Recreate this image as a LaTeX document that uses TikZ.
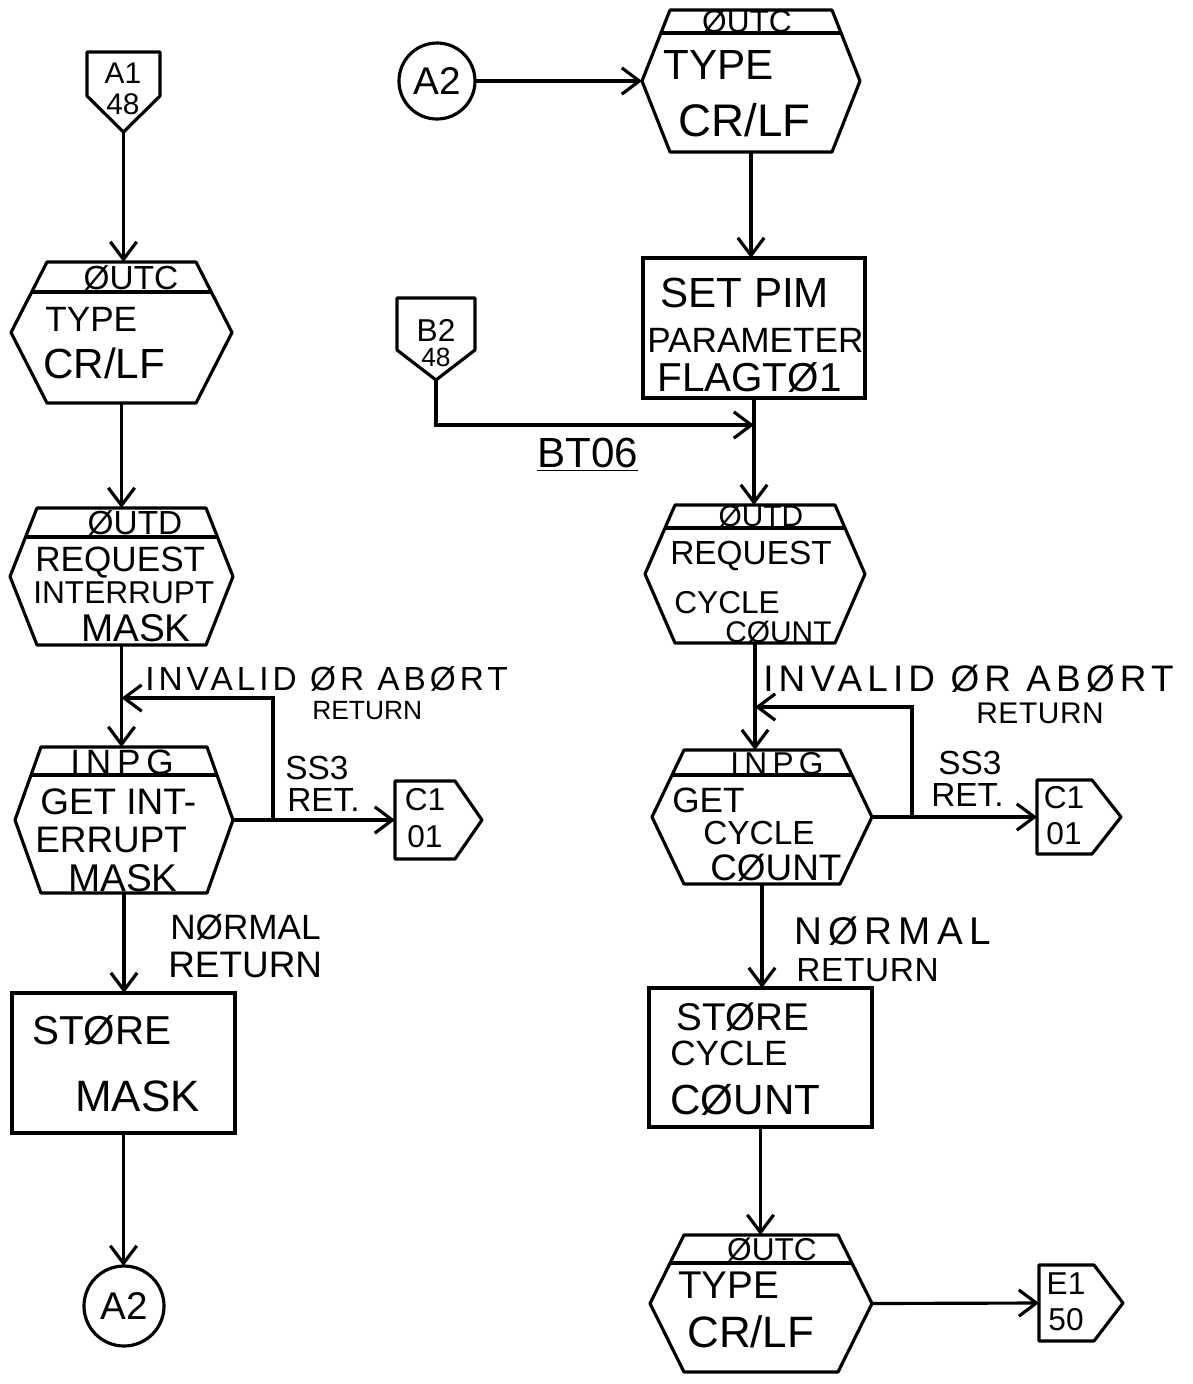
\documentclass[tikz,border=0pt]{standalone}
\usepackage{fontspec}
\setmainfont{Liberation Sans}
\usetikzlibrary{arrows.meta,calc}
\newcommand\fsz[1]{\fontsize{#1}{#1}\selectfont}
\newcommand\spc[1]{\addfontfeature{LetterSpace=#1}}
% hexagon: name, xl, xr, top, bottom, e, divider
\newcommand\HexBox[7]{%
  \node[frame, minimum width={(#3-#2)*0.02cm}, minimum height={(#5-#4)*0.02cm}] (#1) at ({(#2+#3)/2},{(#4+#5)/2}) {};
  \draw[shp] (#2,{(#4+#5)/2}) -- ({#2+#6},#4) -- ({#3-#6},#4) -- (#3,{(#4+#5)/2}) -- ({#3-#6},#5) -- ({#2+#6},#5) -- cycle;
  \draw[shp] ({#2+#6*(1-(#7-#4)/((#5-#4)/2))},#7) -- ({#3-#6*(1-(#7-#4)/((#5-#4)/2))},#7);
}
% off-page tag pointing down: name, xl, xr, top, shoulder, point
\newcommand\DownTag[6]{%
  \node[frame, minimum width={(#3-#2)*0.02cm}, minimum height={(#6-#4)*0.02cm}] (#1) at ({(#2+#3)/2},{(#4+#6)/2}) {};
  \draw[shp] (#2,#4) -- (#3,#4) -- (#3,#5) -- ({(#2+#3)/2},#6) -- (#2,#5) -- cycle;
}
% off-page tag pointing right: name, xl, shoulder x, tip x, top, bottom
\newcommand\RightTag[6]{%
  \node[frame, minimum width={(#4-#2)*0.02cm}, minimum height={(#6-#5)*0.02cm}] (#1) at ({(#2+#4)/2},{(#5+#6)/2}) {};
  \draw[shp] (#2,#5) -- (#3,#5) -- (#4,{(#5+#6)/2}) -- (#3,#6) -- (#2,#6) -- cycle;
}
\begin{document}
\begin{tikzpicture}[x=0.02cm, y=-0.02cm,
  frame/.style={draw=none, rectangle, inner sep=0pt, outer sep=0pt},
  shp/.style={line width=1.8pt, line join=round},
  boxst/.style={draw, line width=1.8pt, rectangle, inner sep=0pt, outer sep=0pt},
  circ/.style={draw, line width=1.8pt, circle, inner sep=0pt, outer sep=0pt},
  arr/.style={line width=1.8pt, -{Straight Barb[length=10pt, width=15pt, line width=1.8pt]}},
  tw/.style={inner sep=0pt, anchor=west},
  tc/.style={inner sep=0pt}]
\useasboundingbox (0,0) rectangle (1193,1384);

% ---------------- left column ----------------
\DownTag{a1}{87}{160}{52}{96}{132}
\node[tc] (a1t) at (123,73) {\fsz{17}A1};
\node[tc] (a1b) at (123,104) {\fsz{17}48};

\HexBox{h1}{11}{232}{262}{403}{36}{292}
\node[tc] (h1h) at (131,278) {\fsz{19}ØUTC};
\node[tw] (h1a) at (45,319) {\fsz{20}TYPE};
\node[tw] (h1b) at (43,363) {\fsz{24}CR/LF};

\HexBox{h2}{10}{233}{508}{645}{27}{537}
\node[tc] (h2h) at (135,523) {\fsz{19}ØUTD};
\node[tw] (h2a) at (35,563) {\fsz{20}REQUEST};
\node[tw] (h2b) at (33,593) {\fsz{18}INTERRUPT};
\node[tc] (h2c) at (136,628) {\fsz{22}MASK};

\HexBox{h3}{15}{233}{747}{893}{26}{775}
\node[tc] (h3h) at (122,762) {\fsz{20}I\,N\,P\,G};
\node[tw] (h3a) at (40,802) {\fsz{21}GET INT-};
\node[tw] (h3b) at (35,840) {\fsz{21}ERRUPT};
\node[tc] (h3c) at (123,878) {\fsz{22}MASK};

\RightTag{c1L}{395}{455}{482}{781}{859}
\node[tc] (c1La) at (425,800) {\fsz{18}C1};
\node[tc] (c1Lb) at (425,837) {\fsz{18}01};

\node[boxst, minimum width={223*0.02cm}, minimum height={140*0.02cm}] (b1) at (123.5,1063) {};
\node[tw] (b1a) at (32,1031) {\fsz{23}STØRE};
\node[tw] (b1b) at (75,1096) {\fsz{25}MASK};

\node[circ, minimum size={80*0.02cm}] (a2L) at (124,1306) {\fsz{22}A2};

\node[tw] (invL) at (145,679) {\fsz{19}\spc{12}INVALID ØR ABØRT};
\node[tw] (retL) at (312,711) {\fsz{15}RETURN};
\node[tw] (ssL) at (285,768) {\fsz{19}SS3};
\node[tw] (rtL) at (287,800) {\fsz{19}RET.};
\node[tw] (nmL) at (170,927) {\fsz{20}NØRMAL};
\node[tw] (nrL) at (168,965) {\fsz{21}RETURN};

\coordinate (brL) at (273,820);
\coordinate (jnL) at (121.5,698);

\draw[arr] (a1.south) -- (a1.south |- h1.north);
\draw[arr] (h1.south) -- (h1.south |- h2.north);
\draw[arr] (h2.south) -- (h2.south |- h3.north);
\draw[arr] (h3.east) -- (c1L.west);
\draw[arr] (brL) |- (jnL);
\draw[arr] (h3.south) -- (h3.south |- b1.north);
\draw[arr] (b1.south) -- (b1.south |- a2L.north);

% ---------------- right column ----------------
\node[circ, minimum size={76*0.02cm}] (a2R) at (437,81) {\fsz{22}A2};

\HexBox{h4}{642}{860}{10}{152}{28}{33}
\node[tc] (h4h) at (747,22) {\fsz{18}ØUTC};
\node[tw] (h4a) at (663,65) {\fsz{24}TYPE};
\node[tw] (h4b) at (678,120) {\fsz{26}CR/LF};

\node[boxst, minimum width={222*0.02cm}, minimum height={140*0.02cm}] (bset) at (754,328) {};
\node[tw] (bsa) at (660,293) {\fsz{24}SET PIM};
\node[tw] (bsb) at (647,340) {\fsz{20}PARAMETER};
\node[tw] (bsc) at (657,378) {\fsz{23}FLAGTØ1};

\DownTag{b2}{397}{475}{298}{350}{380}
\node[tc] (b2t) at (436,330) {\fsz{18}B2};
\node[tc] (b2b) at (436,357) {\fsz{15}48};
\coordinate (bjoin) at (754,425);
\node[tw] (bt) at (537,455) {\fsz{24}\underline{BT06}};

\HexBox{h5}{645}{865}{505}{643}{30}{528}
\node[tc] (h5h) at (761,516) {\fsz{17}ØUTD};
\node[tw] (h5a) at (670,556) {\fsz{19}REQUEST};
\node[tw] (h5b) at (674,603) {\fsz{18}CYCLE};
\node[tw] (h5c) at (725,632) {\fsz{17}CØUNT};

\HexBox{h6}{652}{872}{750}{884}{32}{775}
\node[tc] (h6h) at (777,764) {\fsz{18}I\,N\,P\,G};
\node[tw] (h6a) at (672,800) {\fsz{20}GET};
\node[tw] (h6b) at (703,833) {\fsz{19}CYCLE};
\node[tw] (h6c) at (710,868) {\fsz{21}CØUNT};

\RightTag{c1R}{1037}{1092}{1121}{780}{854}
\node[tc] (c1Ra) at (1064,798) {\fsz{18}C1};
\node[tc] (c1Rb) at (1064,834) {\fsz{18}01};

\node[boxst, minimum width={223*0.02cm}, minimum height={139*0.02cm}] (b3) at (760.5,1057.5) {};
\node[tw] (b3a) at (676,1017) {\fsz{22}STØRE};
\node[tw] (b3b) at (670,1053) {\fsz{20}CYCLE};
\node[tw] (b3c) at (670,1100) {\fsz{24}CØUNT};

\HexBox{h7}{650}{872}{1235}{1372}{34}{1263}
\node[tc] (h7h) at (772,1250) {\fsz{18}ØUTC};
\node[tw] (h7a) at (678,1285) {\fsz{22}TYPE};
\node[tw] (h7b) at (687,1332) {\fsz{25}CR/LF};

\RightTag{e1}{1039}{1094}{1123}{1265}{1341}
\node[tc] (e1a) at (1066,1284) {\fsz{18}E1};
\node[tc] (e1b) at (1066,1320) {\fsz{18}50};

\node[tw] (invR) at (763,679) {\fsz{21}\spc{14}INVALID ØR ABØRT};
\node[tw] (retR) at (976,713) {\fsz{17}\spc{2}RETURN};
\node[tw] (ssR) at (938,763) {\fsz{19}SS3};
\node[tw] (rtR) at (931,795) {\fsz{19}RET.};
\node[tw] (nmR) at (794,931) {\fsz{22}\spc{16}NØRMAL};
\node[tw] (nrR) at (796,970) {\fsz{19}\spc{2}RETURN};

\coordinate (brR) at (912,817);
\coordinate (jnR) at (755,707);

\draw[arr] (a2R.east) -- (h4.west);
\draw[arr] (h4.south) -- (h4.south |- bset.north);
\draw[arr] (bset.south) -- (bset.south |- h5.north);
\draw[arr] (b2.south) |- (bjoin);
\draw[arr] (h5.south) -- (h5.south |- h6.north);
\draw[arr] (h6.east) -- (c1R.west);
\draw[arr] (brR) |- (jnR);
\draw[arr] (h6.south) -- (h6.south |- b3.north);
\draw[arr] (b3.south) -- (b3.south |- h7.north);
\draw[arr] (h7.east) -- (e1.west);
\end{tikzpicture}
\end{document}
